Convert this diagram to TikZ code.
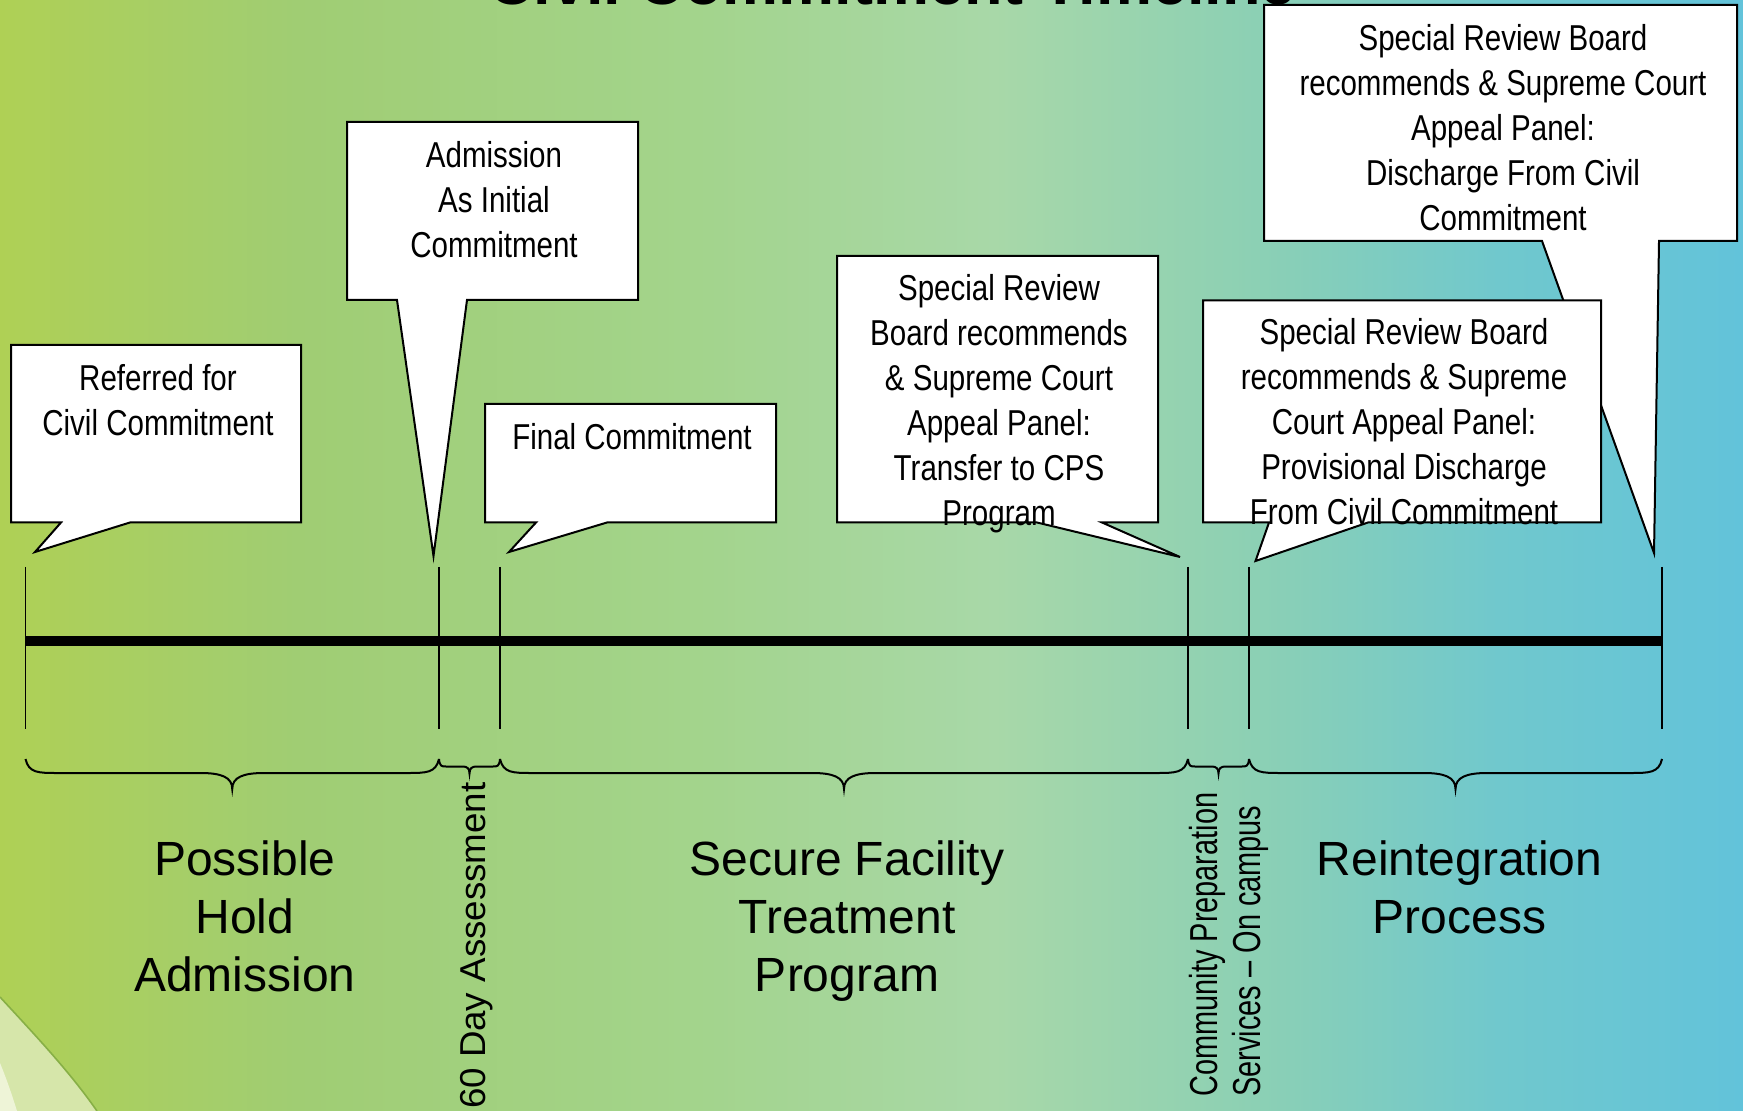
\documentclass[tikz,border=0pt]{standalone}
\usepackage{fontspec}
\setmainfont{Liberation Sans}
\newfontfamily\cnarrow[FakeStretch=0.82]{Liberation Sans}
\newfontfamily\cnarrowb[FakeStretch=0.742]{Liberation Sans}
\newfontfamily\cwide[FakeStretch=1.02]{Liberation Sans}
\usetikzlibrary{calc}
\definecolor{bgA}{RGB}{175,208,85}
\definecolor{bgB}{RGB}{160,205,115}
\definecolor{bgC}{RGB}{163,212,140}
\definecolor{bgD}{RGB}{168,216,168}
\definecolor{bgE}{RGB}{140,208,180}
\definecolor{bgF}{RGB}{112,200,205}
\definecolor{bgG}{RGB}{98,195,218}
\definecolor{swooshA}{RGB}{214,230,170}
\definecolor{swooshB}{RGB}{238,244,215}
\definecolor{swooshLine}{RGB}{135,175,70}
\pgfdeclarehorizontalshading{bgshade}{100bp}{color(0bp)=(bgA); color(25bp)=(bgA); color(33.5bp)=(bgB); color(45bp)=(bgC); color(53.5bp)=(bgD); color(61bp)=(bgE); color(68bp)=(bgF); color(75bp)=(bgG); color(100bp)=(bgG)}
\tikzset{
  callout/.style={fill=white, draw=black, line width=1pt, line join=miter},
  ctext/.style={font=\cnarrow\fontsize{18}{22.5}\selectfont, align=center, inner sep=0pt},
  biglabel/.style={font=\fontsize{24}{29}\selectfont, align=center, inner sep=0pt},
  barline/.style={line width=5pt},
  tickline/.style={line width=0.8pt},
  bracepen/.style={line width=1pt},
}
\newcommand\tlBrace[5]{%
  \coordinate (bm) at ($(#1)!0.5!(#2)$);
  \draw[bracepen] (#1) .. controls ($(#1)+(0.1*#3,#4)$) and ($(#1)+(0.4*#3,#4)$) .. ($(#1)+(#3,#4)$)
    -- ($(bm)+(-#3,#4)$) .. controls ($(bm)+(-0.35*#3,#4)$) and ($(bm)+(0,#4+0.25*#5)$) .. ($(bm)+(0,#4+#5)$)
    .. controls ($(bm)+(0,#4+0.25*#5)$) and ($(bm)+(0.35*#3,#4)$) .. ($(bm)+(#3,#4)$)
    -- ($(#2)+(-#3,#4)$) .. controls ($(#2)+(-0.4*#3,#4)$) and ($(#2)+(-0.1*#3,#4)$) .. (#2);
}
\begin{document}
\begin{tikzpicture}[x=0.5pt,y=-0.5pt]
\useasboundingbox (0,0) rectangle (1743,1111);
\begin{scope}
\clip (0,0) rectangle (1743,1111);
% background
\shade[shading=bgshade] (0,0) rectangle (1743,1111);
% bottom-left swoosh
\fill[swooshA] (0,997) .. controls (35,1035) and (70,1072) .. (97,1111) -- (0,1111) -- cycle;
\draw[swooshLine, line width=0.8pt] (0,997) .. controls (35,1035) and (70,1072) .. (97,1111);
\fill[swooshB] (0,1063) .. controls (7,1080) and (12,1095) .. (17,1111) -- (0,1111) -- cycle;
% title (cut off at the top)
\node[font=\bfseries\fontsize{31.5}{36}\selectfont, anchor=base, inner sep=0pt] (title) at (892,5) {Civil Commitment Timeline};

% timeline coordinates
\foreach \n/\x in {1/25.5, 2/439, 3/500, 4/1188, 5/1249, 6/1662}{
  \coordinate (k\n) at (\x,641);
  \coordinate (kt\n) at (\x,567);
  \coordinate (kb\n) at (\x,729);
  \coordinate (bs\n) at (\x,759);
}
\draw[barline] (k1) -- (k6);
\foreach \n in {1,...,6}{ \draw[tickline] (kt\n) -- (kb\n); }

% braces
\tlBrace{bs1}{bs2}{32}{14}{16}
\tlBrace{bs2}{bs3}{7}{7.5}{7}
\tlBrace{bs3}{bs4}{32}{14}{16}
\tlBrace{bs4}{bs5}{7}{7.5}{7}
\tlBrace{bs5}{bs6}{32}{14}{16}

% callout tips
\coordinate (tip1) at (35,552);
\coordinate (tip2) at (433.5,556);
\coordinate (tip3) at (509,552);
\coordinate (tip4) at (1180,557);
\coordinate (tip5) at (1255.5,561);
\coordinate (tip6) at (1654,553);

% callout shapes (6 first, as 5 covers its tail)
\draw[callout] (1264,5) -- (1737,5) -- (1737,241) -- (1659,241) -- (tip6) -- (1542,241) -- (1264,241) -- cycle;
\draw[callout] (11,345) -- (301,345) -- (301,522.5) -- (130,522.5) -- (tip1) -- (61,522.5) -- (11,522.5) -- cycle;
\draw[callout] (347,122) -- (638,122) -- (638,300) -- (467,300) -- (tip2) -- (397,300) -- (347,300) -- cycle;
\draw[callout] (485,404) -- (776,404) -- (776,522.5) -- (607,522.5) -- (tip3) -- (536,522.5) -- (485,522.5) -- cycle;
\draw[callout] (837,256) -- (1158,256) -- (1158,522.5) -- (1102,522.5) -- (tip4) -- (1037,522.5) -- (837,522.5) -- cycle;
\draw[callout] (1203,300.5) -- (1601,300.5) -- (1601,522.5) -- (1368,522.5) -- (tip5) -- (1269,522.5) -- (1203,522.5) -- cycle;

% callout texts
\node[ctext] (c1) at (158,400) {Referred for\\Civil Commitment};
\node[ctext] (c2) at (494,200) {Admission\\As Initial\\Commitment};
\node[ctext] (c3) at (632,437) {Final Commitment};
\node[ctext] (c4) at (999,404) {Special Review\\Board recommends\\\& Supreme Court\\Appeal Panel:\\Transfer to CPS\\Program};
\node[ctext] (c5) at (1404,422) {Special Review Board\\recommends \& Supreme\\Court Appeal Panel:\\Provisional Discharge\\From Civil Commitment};
\node[ctext] (c6) at (1503,127.5) {Special Review Board\\recommends \& Supreme Court\\Appeal Panel:\\Discharge From Civil\\Commitment};

% period labels
\node[biglabel] (lab1) at (245,916) {Possible\\Hold\\Admission};
\node[biglabel] (lab2) at (847,921) {Secure Facility\\Treatment\\Program};
\node[biglabel] (lab3) at (1459.5,887) {Reintegration\\Process};
\node[rotate=90, anchor=base east, inner sep=0pt, font=\cwide\fontsize{18}{22}\selectfont] (sixty) at (485,782) {60 Day Assessment};
\node[rotate=90, anchor=south west, align=left, inner sep=0pt, font=\cnarrowb\fontsize{19.5}{21.5}\selectfont] (cps) at (1269.3,1097) {Community Preparation\\Services – On campus};
\end{scope}
\end{tikzpicture}
\end{document}
